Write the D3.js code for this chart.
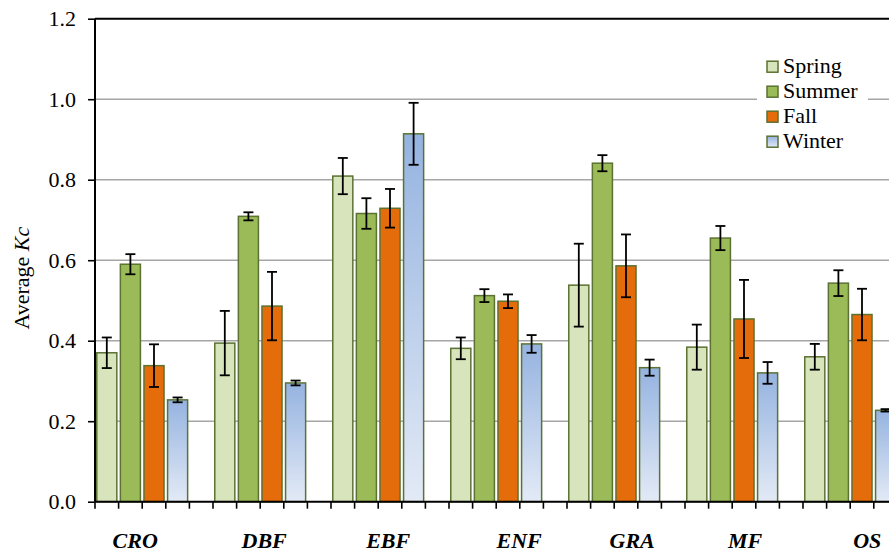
<!DOCTYPE html>
<html>
<head>
<meta charset="utf-8">
<script src="https://cdn.jsdelivr.net/npm/d3@7"></script>
<style>
  html, body { margin: 0; padding: 0; background: #fff; }
  svg { display: block; }
  svg text { font-family: "Liberation Serif", "Times New Roman", Times, Tinos, "DejaVu Serif", "Noto Serif", serif !important; fill: #000; }
</style>
</head>
<body>
<div id="chart"></div>
<script>
// ---- data ----
const categories = ["CRO", "DBF", "EBF", "ENF", "GRA", "MF", "OS"];
const seasons = ["Spring", "Summer", "Fall", "Winter"];
const spring    = [0.370, 0.394, 0.809, 0.381, 0.538, 0.384, 0.360];
const springErr = [0.038, 0.080, 0.045, 0.027, 0.103, 0.056, 0.032];
const summer    = [0.590, 0.709, 0.716, 0.512, 0.841, 0.655, 0.543];
const summerErr = [0.025, 0.010, 0.038, 0.016, 0.020, 0.030, 0.032];
const fall      = [0.338, 0.486, 0.729, 0.498, 0.586, 0.454, 0.465];
const fallErr   = [0.053, 0.085, 0.048, 0.017, 0.078, 0.097, 0.064];
const winter    = [0.253, 0.295, 0.914, 0.392, 0.333, 0.320, 0.227];
const winterErr = [0.006, 0.006, 0.077, 0.022, 0.020, 0.027, 0.003];
const yTicks = [0, 0.2, 0.4, 0.6, 0.8, 1.0, 1.2];

// ---- layout / style ----
const W = 889, H = 555;
const x0 = 95, slot = 23.6, slotsPerCat = 5;
const yTop = 18.7, yBottom = 501.7;
const labelShift = [-7, 4, 10, 23, 18, 13, 17]; // label offsets from bar-group centre (px)
const fills = { Spring: "#d8e4bc", Summer: "#9bbb59", Fall: "#e46c0a", Winter: "url(#winterGrad)" };
const stroke = "#5b7232";
const FONT = 22;
const FAMILY = '"Liberation Serif", "Times New Roman", Times, Tinos, "DejaVu Serif", serif';

const seriesVals = { Spring: spring, Summer: summer, Fall: fall, Winter: winter };
const seriesErr = { Spring: springErr, Summer: summerErr, Fall: fallErr, Winter: winterErr };

const svg = d3.select("#chart").append("svg").attr("width", W).attr("height", H)
  .attr("font-family", FAMILY);
const defs = svg.append("defs");
const g1 = defs.append("linearGradient").attr("id", "winterGrad")
  .attr("x1", 0).attr("y1", 0).attr("x2", 0).attr("y2", 1);
g1.append("stop").attr("offset", "0%").attr("stop-color", "#95b3e0");
g1.append("stop").attr("offset", "100%").attr("stop-color", "#e3eaf6");

const x = d3.scaleBand().domain(categories)
  .range([x0, x0 + categories.length * slotsPerCat * slot]).paddingInner(0).paddingOuter(0);
const xs = d3.scaleBand().domain(seasons)
  .range([0, seasons.length * slot]).paddingInner(0.15).paddingOuter(0.075);
const y = d3.scaleLinear().domain([0, 1.2]).range([yBottom, yTop]);

// gridlines
svg.append("g").selectAll("line").data(yTicks.filter(t => t > 0))
  .join("line")
  .attr("x1", x0).attr("x2", W)
  .attr("y1", d => y(d)).attr("y2", d => y(d))
  .attr("stroke", d => d >= 1.2 ? "#000" : "#a6a6a6")
  .attr("stroke-width", d => d >= 1.2 ? 2 : 1.6);

// bars
const rows = [];
categories.forEach((c, i) => seasons.forEach(s => rows.push({ c, s, v: seriesVals[s][i], e: seriesErr[s][i] })));

svg.append("g").selectAll("rect").data(rows).join("rect")
  .attr("x", d => x(d.c) + xs(d.s))
  .attr("width", xs.bandwidth())
  .attr("y", d => y(d.v))
  .attr("height", d => y(0) - y(d.v))
  .attr("fill", d => fills[d.s])
  .attr("stroke", stroke)
  .attr("stroke-width", 1.5);

// error bars
const eg = svg.append("g").attr("stroke", "#000").attr("stroke-width", 1.8);
rows.forEach(d => {
  const cx = x(d.c) + xs(d.s) + xs.bandwidth() / 2;
  eg.append("line").attr("x1", cx).attr("x2", cx).attr("y1", y(d.v + d.e)).attr("y2", y(d.v - d.e));
  [d.v + d.e, d.v - d.e].forEach(v =>
    eg.append("line").attr("x1", cx - 5).attr("x2", cx + 5).attr("y1", y(v)).attr("y2", y(v)));
});

// y axis
const yAxis = d3.axisLeft(y).tickValues(yTicks).tickFormat(d3.format(".1f")).tickSize(7).tickPadding(12);
const ya = svg.append("g").attr("transform", `translate(${x0},0)`).call(yAxis)
  .attr("font-family", FAMILY).attr("font-size", FONT);
ya.select(".domain").attr("stroke", "#000").attr("stroke-width", 2).attr("d", `M0,${yTop}V${yBottom}`);
ya.selectAll(".tick line").attr("stroke", "#000").attr("stroke-width", 1.6);
ya.selectAll(".tick text").attr("font-size", FONT).attr("fill", "#000");

// x axis baseline and slot ticks
svg.append("line").attr("x1", x0).attr("x2", W).attr("y1", y(0)).attr("y2", y(0))
  .attr("stroke", "#000").attr("stroke-width", 2);
const tickXs = d3.range(categories.length * slotsPerCat + 1).map(k => x.range()[0] + k * x.step() / slotsPerCat);
svg.append("g").selectAll("line").data(tickXs).join("line")
  .attr("x1", d => d).attr("x2", d => d)
  .attr("y1", y(0)).attr("y2", y(0) + 7)
  .attr("stroke", "#000").attr("stroke-width", 1.6);

// category labels
svg.append("g").selectAll("text").data(categories).join("text")
  .attr("x", (d, i) => x(d) + xs.range()[1] / 2 + labelShift[i])
  .attr("y", 548)
  .attr("text-anchor", "middle")
  .attr("font-size", FONT).attr("font-weight", "bold").attr("font-style", "italic")
  .text(d => d);

// y title
const yt = svg.append("text")
  .attr("transform", `translate(29,${(yTop + yBottom) / 2 + 18}) rotate(-90)`)
  .attr("text-anchor", "middle").attr("font-size", FONT);
yt.append("tspan").text("Average ");
yt.append("tspan").attr("font-style", "italic").text("Kc");

// legend
const lg = svg.append("g");
lg.append("rect").attr("x", 757).attr("y", 52).attr("width", 111).attr("height", 103).attr("fill", "#fff");
seasons.forEach((s, i) => {
  const cy = 66.7 + i * 25;
  lg.append("rect").attr("x", 767).attr("y", cy - 5.5).attr("width", 11).attr("height", 11)
    .attr("fill", fills[s]).attr("stroke", stroke).attr("stroke-width", 1.5);
  lg.append("text").attr("x", 783).attr("y", cy + 6.5).attr("font-size", FONT).text(s);
});
</script>
</body>
</html>
